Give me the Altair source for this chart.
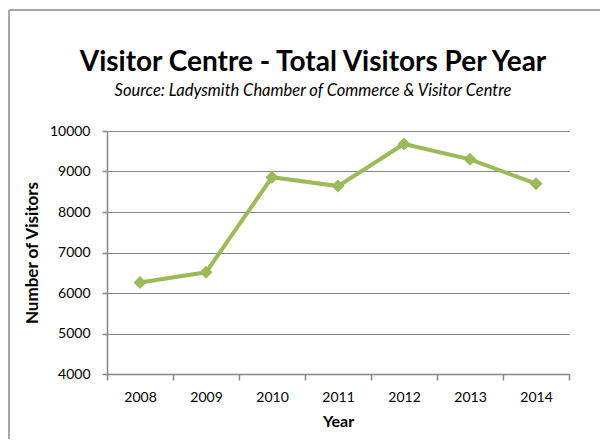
import altair as alt
import pandas as pd

years = ["2008", "2009", "2010", "2011", "2012", "2013", "2014"]
visitors = [6260, 6510, 8860, 8640, 9680, 9300, 8700]
title_text = ["Visitor Centre - Total Visitors Per Year"]
subtitle_text = ["Source:  Ladysmith  Chamber of Commerce  &  Visitor  Centre"]

df = pd.DataFrame({"Year": years, "Visitors": visitors})
one = pd.DataFrame({"title": title_text, "subtitle": subtitle_text})

FONT = "Lato"
GREEN = "#9BBB59"
GRID = "#868686"
BORDER = "#a6a6a6"

x_enc = alt.X(
    "Year:N",
    bandPosition=0.5,
    scale=alt.Scale(type="band", paddingInner=0, paddingOuter=0),
    axis=alt.Axis(
        title="Year",
        labelAngle=0,
        tickBand="extent",
        tickSize=6,
        labelPadding=10,
        titlePadding=9,
        titleFontSize=16,
    ),
)
y_enc = alt.Y(
    "Visitors:Q",
    scale=alt.Scale(domain=[4000, 10000], nice=False, zero=False),
    axis=alt.Axis(
        title="Number of Visitors",
        values=[4000, 5000, 6000, 7000, 8000, 9000, 10000],
        format="d",
        tickSize=5,
        labelPadding=12,
        titlePadding=8,
        titleFontSize=17,
        grid=True,
    ),
)

line = alt.Chart(df).mark_line(
    color=GREEN,
    strokeWidth=4,
    point=alt.OverlayMarkDef(shape="diamond", size=170, filled=True, color=GREEN),
).encode(x=x_enc, y=y_enc)

border_left = alt.Chart(one).mark_rule(color=BORDER, strokeWidth=2).encode(
    x=alt.value(-98), y=alt.value(-121), y2=alt.value(320)
)
border_top = alt.Chart(one).mark_rule(color=BORDER, strokeWidth=2).encode(
    x=alt.value(-98), x2=alt.value(500), y=alt.value(-121)
)

title = alt.Chart(one).mark_text(
    font=FONT, fontSize=28, fontWeight="bold", color="#000000",
    align="center", baseline="alphabetic",
).encode(text="title:N", x=alt.value(206), y=alt.value(-60))

subtitle = alt.Chart(one).mark_text(
    font=FONT, fontSize=16.5, fontStyle="italic", color="#000000",
    align="center", baseline="alphabetic",
).encode(text="subtitle:N", x=alt.value(206), y=alt.value(-35))

chart = (
    alt.layer(border_left, border_top, title, subtitle, line)
    .properties(
        width=462,
        height=243,
        autosize=alt.AutoSizeParams(type="none"),
        padding={"left": 99, "top": 123, "right": 31, "bottom": 65},
    )
    .configure_view(stroke=None)
    .configure_axis(
        labelFont=FONT,
        labelFontSize=14,
        labelColor="#000000",
        titleFont=FONT,
        titleFontWeight="bold",
        titleColor="#000000",
        domainColor=GRID,
        domainWidth=1.5,
        tickColor=GRID,
        tickWidth=1.5,
        gridColor=GRID,
        gridWidth=1.2,
        gridOpacity=1,
    )
    .configure_axisX(grid=False)
)

chart.save("out.html", embed_options={"renderer": "svg", "actions": False})
